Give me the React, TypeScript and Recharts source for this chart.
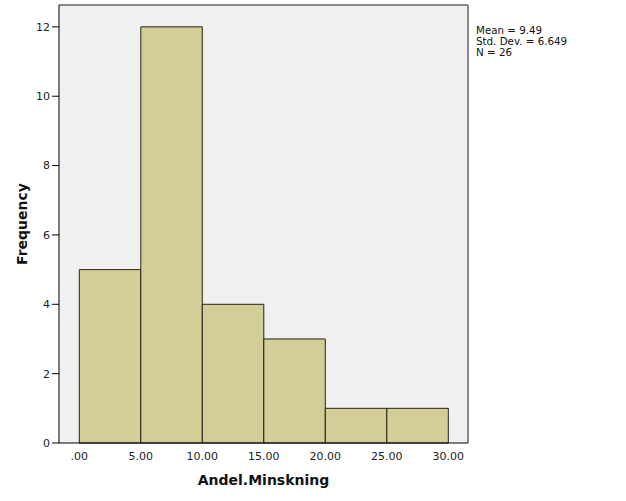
import React from "react";
import {
  ComposedChart,
  XAxis,
  YAxis,
  CartesianGrid,
  ReferenceArea,
  ReferenceLine,
  Line,
  Label,
} from "recharts";

// histogram bins (lower edge, upper edge) and their counts
const binStarts = [0, 5, 10, 15, 20, 25];
const binEnds = [5, 10, 15, 20, 25, 30];
const counts = [5, 12, 4, 3, 1, 1];

const xTicks = [0, 5, 10, 15, 20, 25, 30];
const yTicks = [0, 2, 4, 6, 8, 10, 12];
const statLines = ["Mean = 9.49", "Std. Dev. = 6.649", "N = 26"];

const X_DOMAIN: [number, number] = [-1.65, 31.6];
const Y_DOMAIN: [number, number] = [0, 12.63];

const data = binStarts.map((s, i) => ({ x: (s + binEnds[i]) / 2, y: counts[i] }));

const fmtX = (v: number) => (v === 0 ? ".00" : v.toFixed(2));

export default function App() {
  return (
    <div style={{ position: "relative", width: 626, height: 501, background: "#fff", fontFamily: "'DejaVu Sans', sans-serif" }}>
      <style>{`body{margin:0}`}</style>
      <ComposedChart
        width={626}
        height={501}
        data={data}
        margin={{ top: 5, right: 158, left: 0, bottom: 0 }}
      >
        <CartesianGrid fill="#f0f0f0" horizontal={false} vertical={false} />
        <XAxis
          type="number"
          dataKey="x"
          domain={X_DOMAIN}
          ticks={xTicks}
          tickFormatter={fmtX}
          allowDataOverflow
          height={58}
          tickLine={false}
          axisLine={{ stroke: "#000", strokeWidth: 1 }}
          tick={{ fill: "#222", fontSize: 11 }}
          tickMargin={3}
        >
          <Label value="Andel.Minskning" position="insideBottom" offset={16} style={{ fontSize: 14, fontWeight: "bold", fill: "#111" }} />
        </XAxis>
        <YAxis
          type="number"
          domain={Y_DOMAIN}
          ticks={yTicks}
          allowDataOverflow
          width={59}
          tickSize={7}
          tickLine={{ stroke: "#000" }}
          axisLine={{ stroke: "#000", strokeWidth: 1 }}
          tick={{ fill: "#222", fontSize: 11 }}
        >
          <Label value="Frequency" angle={-90} position="insideLeft" offset={22} style={{ fontSize: 14, fontWeight: "bold", fill: "#111", textAnchor: "middle" }} />
        </YAxis>
        {binStarts.map((s, i) => (
          <ReferenceArea
            key={i}
            x1={s}
            x2={binEnds[i]}
            y1={0}
            y2={counts[i]}
            fill="#d3ce97"
            fillOpacity={1}
            stroke="#23231a"
            strokeWidth={1}
          />
        ))}
        <ReferenceLine y={Y_DOMAIN[1]} stroke="#888" strokeWidth={2} />
        <ReferenceLine x={X_DOMAIN[1]} stroke="#888" strokeWidth={2} />
        <Line dataKey="y" stroke="none" dot={false} activeDot={false} isAnimationActive={false} />
      </ComposedChart>
      <div style={{ position: "absolute", left: 476, top: 25, fontSize: 10.3, lineHeight: "11px", color: "#111" }}>
        {statLines.map((t) => (
          <div key={t}>{t}</div>
        ))}
      </div>
    </div>
  );
}
